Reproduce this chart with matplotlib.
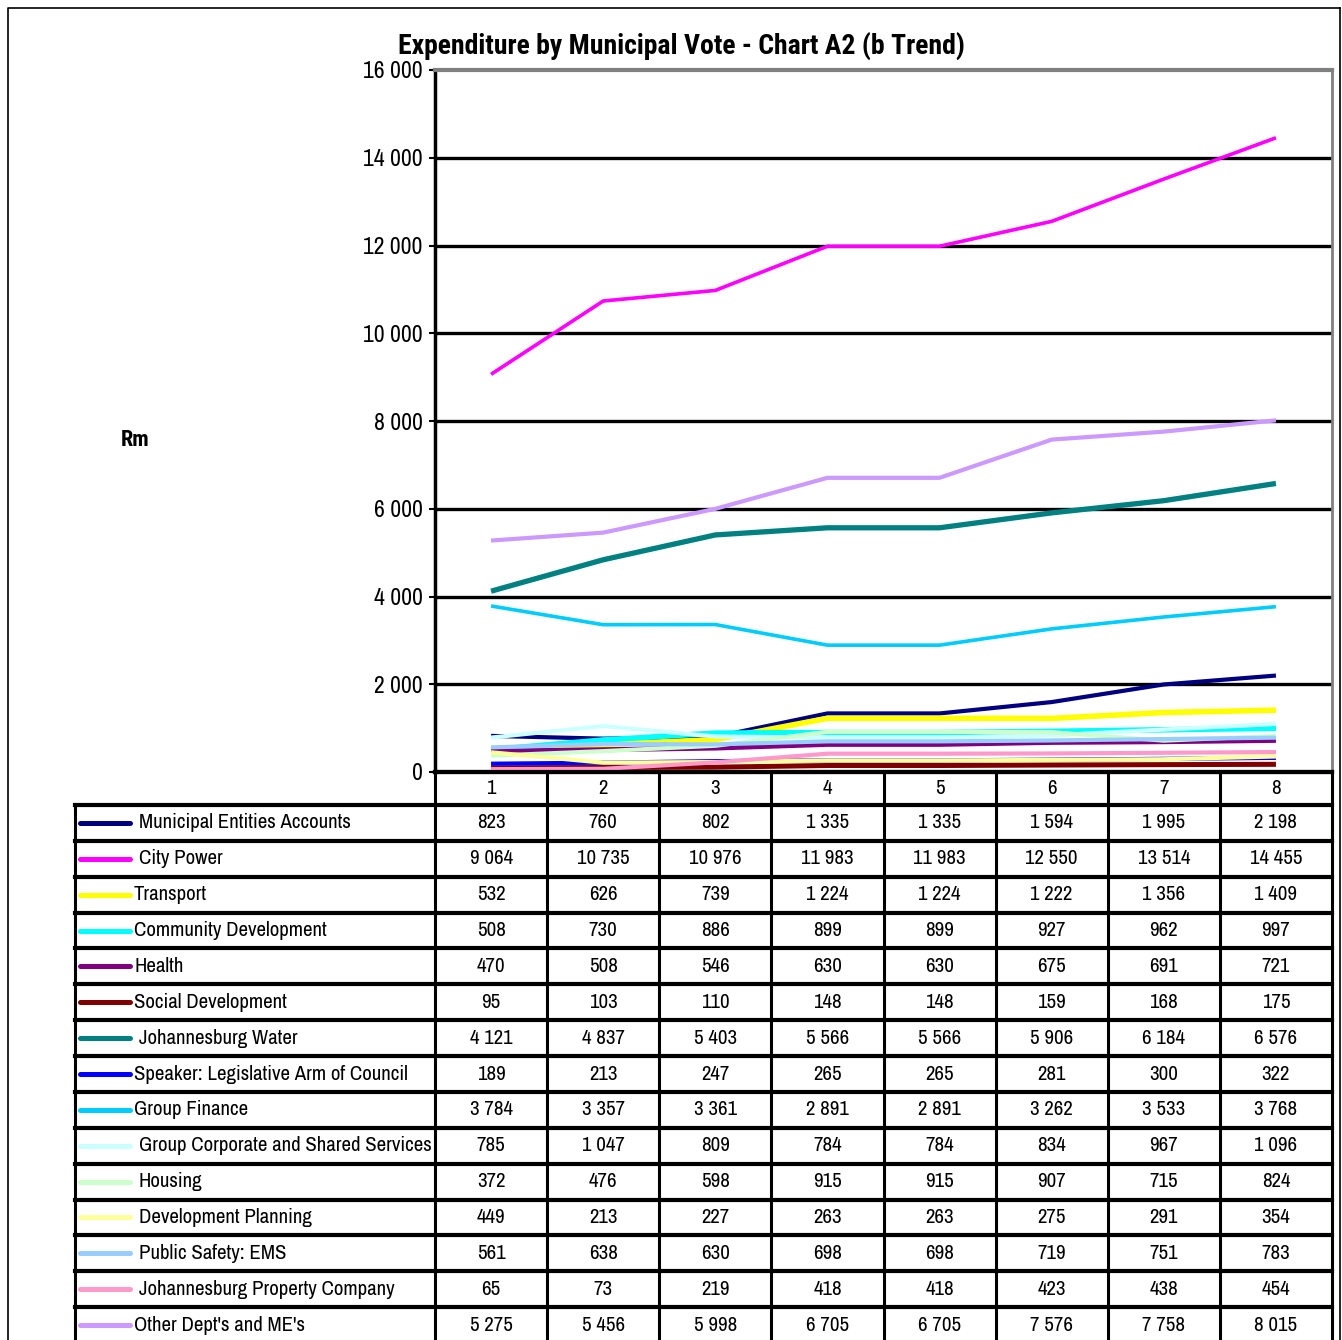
import matplotlib
matplotlib.use("Agg")
import matplotlib.pyplot as plt

plt.rcParams['font.family'] = ['Archivo Narrow', 'Roboto Condensed', 'DejaVu Sans']
bold_family = ['Roboto Condensed', 'Archivo Narrow', 'DejaVu Sans']

# data -- Rm per period
periods = ["1", "2", "3", "4", "5", "6", "7", "8"]
municipal_entities = [823, 760, 802, 1335, 1335, 1594, 1995, 2198]
city_power = [9064, 10735, 10976, 11983, 11983, 12550, 13514, 14455]
transport = [532, 626, 739, 1224, 1224, 1222, 1356, 1409]
community_dev = [508, 730, 886, 899, 899, 927, 962, 997]
health = [470, 508, 546, 630, 630, 675, 691, 721]
social_dev = [95, 103, 110, 148, 148, 159, 168, 175]
jhb_water = [4121, 4837, 5403, 5566, 5566, 5906, 6184, 6576]
speaker = [189, 213, 247, 265, 265, 281, 300, 322]
group_finance = [3784, 3357, 3361, 2891, 2891, 3262, 3533, 3768]
group_corporate = [785, 1047, 809, 784, 784, 834, 967, 1096]
housing = [372, 476, 598, 915, 915, 907, 715, 824]
dev_planning = [449, 213, 227, 263, 263, 275, 291, 354]
public_safety = [561, 638, 630, 698, 698, 719, 751, 783]
jhb_property = [65, 73, 219, 418, 418, 423, 438, 454]
other_depts = [5275, 5456, 5998, 6705, 6705, 7576, 7758, 8015]

series = [
    ("Municipal Entities Accounts", municipal_entities, "#000080", 3.0),
    ("City Power", city_power, "#FF00FF", 2.6),
    ("Transport", transport, "#FFFF00", 4.0),
    ("Community Development", community_dev, "#00FFFF", 4.0),
    ("Health", health, "#800080", 3.6),
    ("Social Development", social_dev, "#800000", 3.6),
    ("Johannesburg Water", jhb_water, "#008080", 3.8),
    ("Speaker: Legislative Arm of Council", speaker, "#0000FF", 3.0),
    ("Group Finance", group_finance, "#00CCFF", 2.6),
    ("Group Corporate and Shared Services", group_corporate, "#CCFFFF", 3.0),
    ("Housing", housing, "#CCFFCC", 3.0),
    ("Development Planning", dev_planning, "#FFFF99", 3.0),
    ("Public Safety: EMS", public_safety, "#99CCFF", 3.0),
    ("Johannesburg Property Company", jhb_property, "#FF99CC", 3.0),
    ("Other Dept's and ME's", other_depts, "#CC99FF", 3.0),
]
label_offset = [True, True, False, False, False, False, True, False, False,
                True, True, True, True, True, False]

W, H = 1342, 1340
fig = plt.figure(figsize=(W / 100, H / 100), dpi=100)

# main plot area
x0, x1, ytop, ybot = 435, 1332, 70, 772
ax = fig.add_axes([x0 / W, (H - ybot) / H, (x1 - x0) / W, (ybot - ytop) / H])
xs = list(range(1, len(periods) + 1))
for name, vals, col, lw in series:
    ax.plot(xs, vals, color=col, lw=lw, solid_capstyle="butt", zorder=3)

ax.set_xlim(0.5, 8.5)
ax.set_ylim(0, 16000)
ax.set_yticks(range(0, 16001, 2000))
ax.set_yticklabels([f"{v:,}".replace(",", " ") for v in range(0, 16001, 2000)], fontsize=17)
ax.set_xticks([])
for y in range(2000, 16000, 2000):
    ax.axhline(y, color="black", lw=2.4, zorder=1)
ax.spines["top"].set_color("#808080")
ax.spines["top"].set_linewidth(3)
ax.spines["right"].set_color("#808080")
ax.spines["right"].set_linewidth(2)
ax.spines["left"].set_linewidth(2.5)
ax.spines["bottom"].set_linewidth(3)
ax.tick_params(axis="y", length=4, width=1.5, pad=5)

fig.text(681 / W, 1 - 46 / H, "Expenditure by Municipal Vote - Chart A2 (b Trend)",
         ha="center", va="center", fontsize=20, fontweight="bold", family=bold_family)
fig.text(135 / W, 1 - 440 / H, "Rm", ha="center", va="center", fontsize=16,
         fontweight="bold", family=bold_family)

# data table below the plot
tab = fig.add_axes([0, 0, 1, 1], facecolor="none")
tab.set_xlim(0, W)
tab.set_ylim(H, 0)
tab.axis("off")

colw = (x1 - x0) / len(periods)
head_top, head_bot = 772, 805
rowh = (1343 - head_bot) / len(series)
left = 75

for i, p in enumerate(periods):
    tab.text(x0 + (i + 0.5) * colw, (head_top + head_bot) / 2, p,
             ha="center", va="center", fontsize=15)
for i in range(len(periods) + 1):
    tab.plot([x0 + i * colw] * 2, [head_top, H + 5], color="black", lw=2.2)
tab.plot([left, left], [head_bot, H + 5], color="black", lw=2.2)
tab.plot([x0, x1], [head_top, head_top], color="black", lw=3)

for r, (name, vals, col, lw) in enumerate(series):
    ytop_r = head_bot + r * rowh
    yc = ytop_r + rowh / 2
    tab.plot([left, x1], [ytop_r, ytop_r], color="black", lw=3)
    tab.plot([80, 130], [yc, yc], color=col, lw=3.6, solid_capstyle="round")
    tx = 139 if label_offset[r] else 134
    tab.text(tx, yc, name, ha="left", va="center", fontsize=15)
    for i, v in enumerate(vals):
        tab.text(x0 + (i + 0.5) * colw, yc, f"{v:,}".replace(",", " "),
                 ha="center", va="center", fontsize=15)

# outer frame
tab.plot([8, 8, 1340], [H + 5, 8, 8], color="black", lw=1.2)
tab.plot([1340, 1340], [8, H + 5], color="black", lw=1.2)

fig.savefig("out.png", dpi=100)
